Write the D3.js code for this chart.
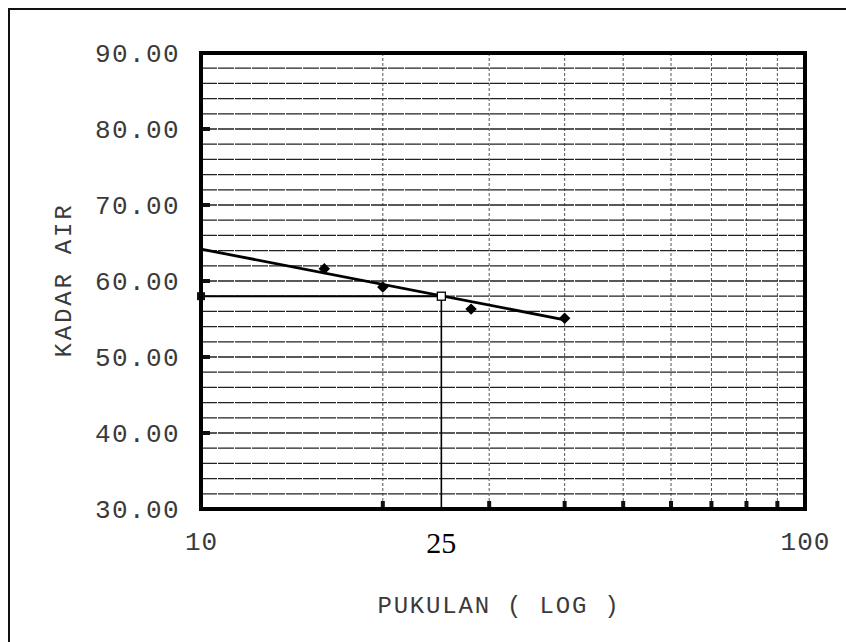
<!DOCTYPE html>
<html>
<head>
<meta charset="utf-8">
<script src="https://cdn.jsdelivr.net/npm/d3@7"></script>
<style>
  html, body { margin: 0; padding: 0; background: #fff; }
  svg { display: block; }
  .mono { font-family: "Liberation Mono", "DejaVu Sans Mono", monospace; fill: #3a3a3a; }
  .serif { font-family: "Liberation Serif", "Times New Roman", serif; fill: #000; }
</style>
</head>
<body>
<svg id="chart" width="846" height="642"></svg>
<script>
// ---- data ----
const blows = [16, 20, 28, 40];                 // PUKULAN
const moisture = [61.6, 59.2, 56.3, 55.1];      // KADAR AIR
const trendBlows = [10, 40];
const trendMoisture = [64.2, 54.9];
const liquidLimitBlows = 25;
const liquidLimitMoisture = 58.0;
const yTicks = [30, 40, 50, 60, 70, 80, 90];
const yGrid = d3.range(32, 90, 2);
const xGrid = [20, 30, 40, 50, 60, 70, 80, 90];
const xLabels = [10, 100];

// ---- layout ----
const svg = d3.select("#chart");
const L = 201, R = 805, T = 53, B = 509;
const x = d3.scaleLog().domain([10, 100]).range([L, R]);
const y = d3.scaleLinear().domain([30, 90]).range([B, T]);

// outer frame
svg.append("path").attr("d", "M9,642 L9,9 L846,9")
  .attr("fill", "none").attr("stroke", "#111").attr("stroke-width", 2);

// vertical grid
svg.append("g").selectAll("line").data(xGrid).join("line")
  .attr("x1", d => x(d)).attr("x2", d => x(d))
  .attr("y1", T).attr("y2", B)
  .attr("stroke", "#555").attr("stroke-width", 1)
  .attr("stroke-dasharray", "3,2");

// horizontal grid
svg.append("g").selectAll("line").data(yGrid).join("line")
  .attr("x1", L).attr("x2", R)
  .attr("y1", d => y(d)).attr("y2", d => y(d))
  .attr("stroke", "#222").attr("stroke-width", 1.3)
  .attr("stroke-dasharray", "16,1");

// bottom ticks (inside)
svg.append("g").selectAll("rect").data(xGrid).join("rect")
  .attr("x", d => x(d) - 2).attr("y", B - 8)
  .attr("width", 4).attr("height", 8).attr("fill", "#111");

// left ticks (inside)
svg.append("g").selectAll("rect").data(yTicks.slice(1, -1)).join("rect")
  .attr("x", L).attr("y", d => y(d) - 2)
  .attr("width", 9).attr("height", 4).attr("fill", "#111");

// liquid limit guides
svg.append("line")
  .attr("x1", L).attr("x2", x(liquidLimitBlows))
  .attr("y1", y(liquidLimitMoisture)).attr("y2", y(liquidLimitMoisture))
  .attr("stroke", "#000").attr("stroke-width", 2);
svg.append("line")
  .attr("x1", x(liquidLimitBlows)).attr("x2", x(liquidLimitBlows))
  .attr("y1", y(liquidLimitMoisture)).attr("y2", B)
  .attr("stroke", "#000").attr("stroke-width", 1.6);
svg.append("rect")
  .attr("x", L - 4).attr("y", y(liquidLimitMoisture) - 4)
  .attr("width", 8).attr("height", 8).attr("fill", "#111");

// trend line
const line = d3.line().x(d => x(d[0])).y(d => y(d[1]));
svg.append("path")
  .datum(trendBlows.map((b, i) => [b, trendMoisture[i]]))
  .attr("d", line).attr("fill", "none")
  .attr("stroke", "#000").attr("stroke-width", 2.8);

// data points (diamonds = rotated squares)
svg.append("g").selectAll("path").data(blows.map((b, i) => [b, moisture[i]])).join("path")
  .attr("transform", d => `translate(${x(d[0])},${y(d[1])}) rotate(45)`)
  .attr("d", d3.symbol().type(d3.symbolSquare).size(66))
  .attr("fill", "#000");

// liquid limit marker (hollow square)
svg.append("rect")
  .attr("x", x(liquidLimitBlows) - 4).attr("y", y(liquidLimitMoisture) - 4)
  .attr("width", 8).attr("height", 8)
  .attr("fill", "#fff").attr("stroke", "#000").attr("stroke-width", 1.3);

// plot frame
svg.append("rect")
  .attr("x", L).attr("y", T).attr("width", R - L).attr("height", B - T)
  .attr("fill", "none").attr("stroke", "#000").attr("stroke-width", 4);

// y axis labels
const yAxis = svg.append("g").attr("transform", `translate(${L},0)`)
  .call(d3.axisLeft(y).tickValues(yTicks).tickFormat(d3.format(".2f")).tickSize(0).tickPadding(21));
yAxis.select(".domain").remove();
yAxis.selectAll("text").attr("class", "mono")
  .attr("font-size", 26).attr("letter-spacing", 1.4).attr("font-family", null).attr("fill", null);

// x axis labels
const xAxis = svg.append("g").attr("transform", `translate(0,${B})`)
  .call(d3.axisBottom(x).tickValues(xLabels).tickFormat(d3.format("d")).tickSize(0).tickPadding(23));
xAxis.select(".domain").remove();
xAxis.selectAll("text").attr("class", "mono")
  .attr("font-size", 26).attr("letter-spacing", 1).attr("font-family", null).attr("fill", null);

svg.append("text").attr("class", "serif")
  .attr("x", x(liquidLimitBlows)).attr("y", 553)
  .attr("text-anchor", "middle")
  .attr("font-size", 30)
  .text(liquidLimitBlows);

// axis titles
svg.append("text").attr("class", "mono")
  .attr("x", 499).attr("y", 613).attr("text-anchor", "middle")
  .attr("font-size", 24).attr("letter-spacing", 1.8)
  .text("PUKULAN ( LOG )");

svg.append("text").attr("class", "mono")
  .attr("transform", "translate(71,280) rotate(-90)")
  .attr("text-anchor", "middle")
  .attr("font-size", 24).attr("letter-spacing", 2.8)
  .text("KADAR AIR");
</script>
</body>
</html>
